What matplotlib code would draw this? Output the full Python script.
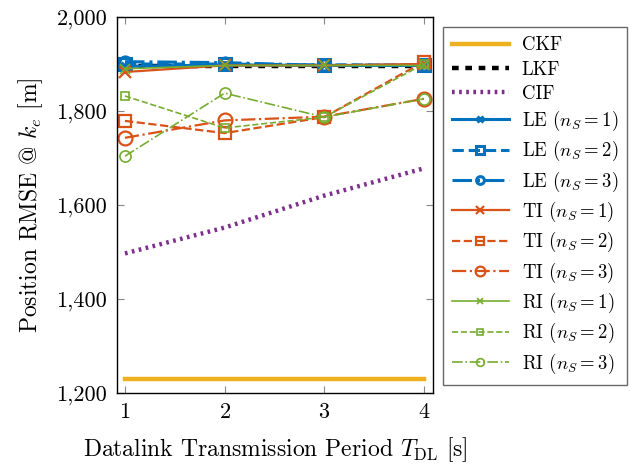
import numpy as np
import matplotlib
matplotlib.use("Agg")
import matplotlib.pyplot as plt
from matplotlib.ticker import FuncFormatter

plt.rcParams['font.family'] = ['cmr10', 'DejaVu Serif']
plt.rcParams['mathtext.fontset'] = 'cm'
plt.rcParams['axes.formatter.use_mathtext'] = True

# -- data
periods = [1, 2, 3, 4]
ckf = [1230, 1230, 1230, 1230]
lkf = [1895, 1895, 1895, 1895]
cif = [1497, 1552, 1620, 1678]

le1 = [1895, 1898, 1897, 1897]
le2 = [1900, 1900, 1898, 1898]
le3 = [1905, 1903, 1897, 1897]
ti1 = [1883, 1897, 1897, 1900]
ti2 = [1779, 1753, 1787, 1905]
ti3 = [1743, 1780, 1788, 1826]
ri1 = [1890, 1897, 1897, 1897]
ri2 = [1832, 1764, 1787, 1900]
ri3 = [1704, 1838, 1787, 1826]

blue = '#0072BD'
orange = '#D95319'
yellow = '#EDB120'
purple = '#7E2F8E'
green = '#77AC30'

fig = plt.figure(figsize=(6.31, 4.65), dpi=100)
ax = fig.add_axes([0.1854, 0.1548, 0.5006, 0.8086])

ax.plot(periods, ckf, color=yellow, lw=3.2, label='CKF')
ax.plot(periods, lkf, color='black', lw=3.2, ls=(0, (1.5, 1.5)), label='LKF')
ax.plot(periods, cif, color=purple, lw=3.2, ls=(0, (0.6, 1.0)), label='CIF')

ax.plot(periods, le1, color=blue, lw=2.2, ls='-', marker='x', ms=6, mew=2.2, label=r'LE ($n_S = 1$)')
ax.plot(periods, le2, color=blue, lw=2.2, ls='--', marker='s', ms=8, mew=2.2, mfc='none', label=r'LE ($n_S = 2$)')
ax.plot(periods, le3, color=blue, lw=2.2, ls='-.', marker='o', ms=8, mew=2.2, mfc='none', label=r'LE ($n_S = 3$)')

ax.plot(periods, ti1, color=orange, lw=1.6, ls='-', marker='x', ms=8, mew=1.6, label=r'TI ($n_S = 1$)')
ax.plot(periods, ti2, color=orange, lw=1.6, ls='--', marker='s', ms=8, mew=1.6, mfc='none', label=r'TI ($n_S = 2$)')
ax.plot(periods, ti3, color=orange, lw=1.6, ls='-.', marker='o', ms=10, mew=1.6, mfc='none', label=r'TI ($n_S = 3$)')

ax.plot(periods, ri1, color=green, lw=1.2, ls='-', marker='x', ms=7, mew=1.2, label=r'RI ($n_S = 1$)')
ax.plot(periods, ri2, color=green, lw=1.2, ls='--', marker='s', ms=6, mew=1.2, mfc='none', label=r'RI ($n_S = 2$)')
ax.plot(periods, ri3, color=green, lw=1.2, ls='-.', marker='o', ms=8, mew=1.2, mfc='none', label=r'RI ($n_S = 3$)')

ax.set_xlim(0.92, 4.09)
ax.set_ylim(1200, 2000)
ax.set_xticks(periods)
ax.set_yticks([1200, 1400, 1600, 1800, 2000])
ax.yaxis.set_major_formatter(FuncFormatter(lambda v, p: f'{int(v):,}'))
ax.tick_params(direction='in', top=True, right=True, color='#888888',
               length=5, labelsize=16, pad=7)
for s in ax.spines.values():
    s.set_linewidth(1.0)

ax.set_ylabel(r'Position RMSE @ $k_e$ [m]', fontsize=17, labelpad=8)
ax.set_xlabel(r'Datalink Transmission Period $T_{\mathrm{DL}}$ [s]', fontsize=17, labelpad=9)

leg = ax.legend(loc='upper left', bbox_to_anchor=(1.032, 0.973), fontsize=13.5,
                frameon=True, fancybox=False, edgecolor='#444444',
                borderaxespad=0.0, handlelength=3.0, labelspacing=0.33,
                markerscale=0.7, borderpad=0.5, handletextpad=0.7)
leg.get_frame().set_linewidth(1.0)

fig.savefig('out.png', dpi=100)
